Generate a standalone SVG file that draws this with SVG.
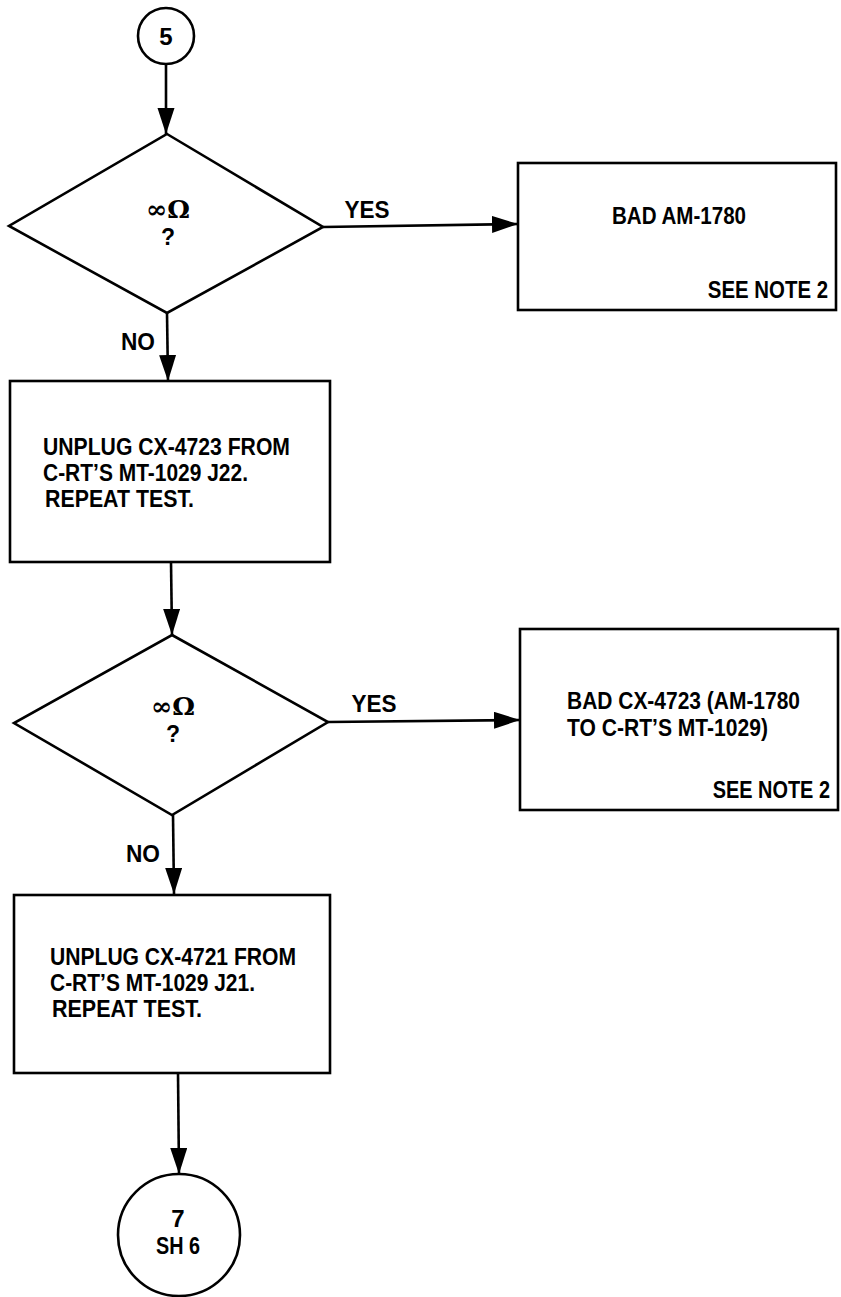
<svg xmlns="http://www.w3.org/2000/svg" width="841" height="1297" viewBox="0 0 841 1297">
<defs>
<style>
.s{fill:#fff;stroke:#000;stroke-width:2.6}
.c{fill:none;stroke:#000;stroke-width:2.6}
.t{font-family:"Liberation Sans",Arial,sans-serif;font-weight:bold;font-size:24px;fill:#000}
.m{text-anchor:middle}
.e{text-anchor:end}
.sym{font-family:"DejaVu Serif","Liberation Serif",serif;font-weight:bold;font-size:25px;fill:#000;text-anchor:middle}
.q{font-family:"Liberation Sans",Arial,sans-serif;font-weight:bold;font-size:23px;fill:#000;text-anchor:middle}
</style>
<marker id="ah" markerUnits="userSpaceOnUse" markerWidth="27" markerHeight="18" refX="26" refY="8.5" orient="auto">
<path d="M0,0 L26,8.5 L0,17 z" fill="#000"/>
</marker>
</defs>
<rect width="841" height="1297" fill="#fff"/>
<g id="connectors">
<line class="c" x1="166" y1="64" x2="166" y2="134" marker-end="url(#ah)"/>
<line class="c" x1="323" y1="227" x2="518" y2="224" marker-end="url(#ah)"/>
<line class="c" x1="167" y1="313" x2="168" y2="381" marker-end="url(#ah)"/>
<line class="c" x1="171" y1="562" x2="172" y2="635" marker-end="url(#ah)"/>
<line class="c" x1="328" y1="722" x2="520" y2="720" marker-end="url(#ah)"/>
<line class="c" x1="173" y1="815" x2="174" y2="894" marker-end="url(#ah)"/>
<line class="c" x1="178" y1="1073" x2="179" y2="1174" marker-end="url(#ah)"/>
<text class="t" x="367" y="218" text-anchor="middle" textLength="45" lengthAdjust="spacingAndGlyphs">YES</text>
<text class="t" x="138" y="350" text-anchor="middle" textLength="34" lengthAdjust="spacingAndGlyphs">NO</text>
<text class="t" x="374" y="712" text-anchor="middle" textLength="45" lengthAdjust="spacingAndGlyphs">YES</text>
<text class="t" x="143" y="862" text-anchor="middle" textLength="34" lengthAdjust="spacingAndGlyphs">NO</text>
</g>
<g id="start5">
<circle class="s" cx="166" cy="36" r="28"/>
<text class="t m" x="166" y="45">5</text>
</g>
<g id="decision1">
<polygon class="s" points="167,134 323,227 167,313 9,226"/>
<text class="sym" x="168" y="218" textLength="44" lengthAdjust="spacingAndGlyphs">∞Ω</text>
<text class="q" x="168" y="245">?</text>
</g>
<g id="bad-am1780">
<rect class="s" x="518" y="163" width="318" height="147"/>
<text class="t" x="612" y="224" textLength="134" lengthAdjust="spacingAndGlyphs">BAD AM-1780</text>
<text class="t e" transform="translate(828,298) scale(0.85,1)" x="0" y="0">SEE NOTE 2</text>
</g>
<g id="unplug4723">
<rect class="s" x="10" y="381" width="320" height="181"/>
<text class="t" x="43" y="455" textLength="247" lengthAdjust="spacingAndGlyphs">UNPLUG CX-4723 FROM</text>
<text class="t" x="43" y="481" textLength="205" lengthAdjust="spacingAndGlyphs">C-RT’S MT-1029 J22.</text>
<text class="t" x="45" y="507" textLength="149" lengthAdjust="spacingAndGlyphs">REPEAT TEST.</text>
</g>
<g id="decision2">
<polygon class="s" points="172,635 328,722 172,815 14,723"/>
<text class="sym" x="173" y="715" textLength="44" lengthAdjust="spacingAndGlyphs">∞Ω</text>
<text class="q" x="173" y="742">?</text>
</g>
<g id="bad-cx4723">
<rect class="s" x="520" y="629" width="318" height="181"/>
<text class="t" x="567" y="709" textLength="233" lengthAdjust="spacingAndGlyphs">BAD CX-4723 (AM-1780</text>
<text class="t" x="567" y="736" textLength="201" lengthAdjust="spacingAndGlyphs">TO C-RT’S MT-1029)</text>
<text class="t e" transform="translate(830,798) scale(0.83,1)" x="0" y="0">SEE NOTE 2</text>
</g>
<g id="unplug4721">
<rect class="s" x="14" y="895" width="316" height="178"/>
<text class="t" x="50" y="965" textLength="246" lengthAdjust="spacingAndGlyphs">UNPLUG CX-4721 FROM</text>
<text class="t" x="50" y="991" textLength="205" lengthAdjust="spacingAndGlyphs">C-RT’S MT-1029 J21.</text>
<text class="t" x="52" y="1017" textLength="150" lengthAdjust="spacingAndGlyphs">REPEAT TEST.</text>
</g>
<g id="goto7">
<circle class="s" cx="179" cy="1235" r="61"/>
<text class="t m" x="178" y="1227">7</text>
<text class="t m" x="178" y="1254" textLength="44" lengthAdjust="spacingAndGlyphs">SH 6</text>
</g>
</svg>
